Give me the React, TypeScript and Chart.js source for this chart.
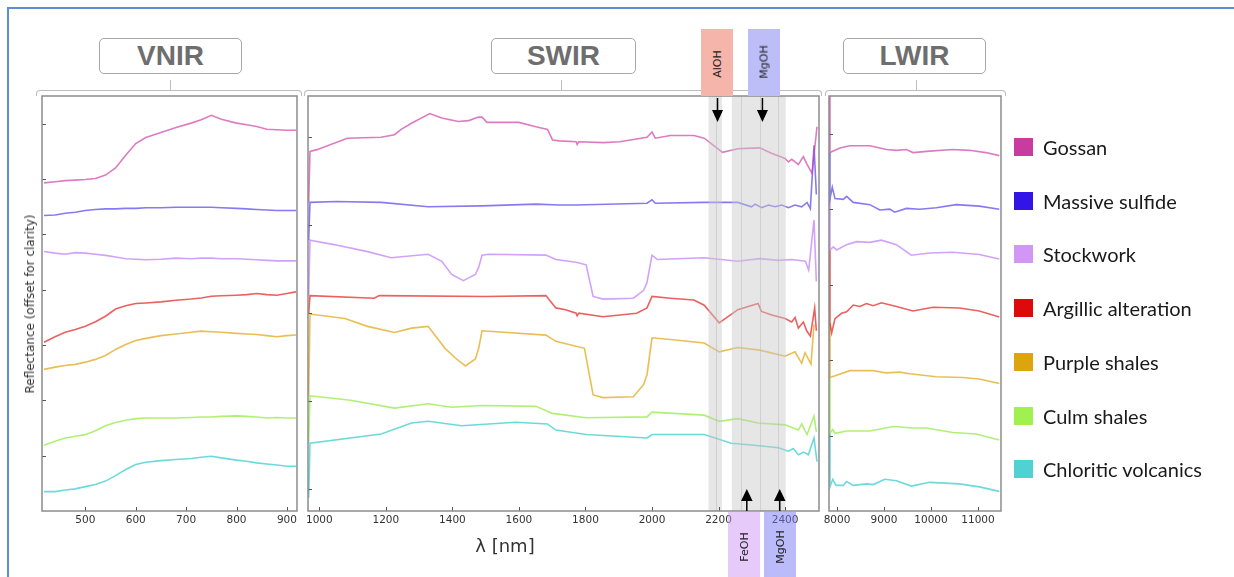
import React, { useEffect, useRef } from "react";
import { Chart, registerables } from "chart.js";

Chart.register(...registerables);

// ---------- series meta ----------
const seriesNames = [
  "Gossan",
  "Massive sulfide",
  "Stockwork",
  "Argillic alteration",
  "Purple shales",
  "Culm shales",
  "Chloritic volcanics",
];
const legendColors = ["#c83ca0", "#3214e6", "#d296f5", "#dc0a0a", "#dca50f", "#a0f050", "#50d2d2"];
const lineColors = [
  "rgba(205,60,165,0.68)",
  "rgba(60,40,235,0.62)",
  "rgba(195,130,245,0.75)",
  "rgba(225,20,20,0.68)",
  "rgba(225,165,20,0.72)",
  "rgba(150,235,70,0.75)",
  "rgba(60,205,205,0.75)",
];

// ---------- VNIR (nm) ----------
const vnirNm = [418, 440, 460, 480, 500, 520, 540, 560, 580, 600, 620, 650, 680, 710, 730, 750, 770, 800, 820, 840, 860, 880, 900, 918];
const vnirGossan = [5.93, 5.95, 5.97, 5.98, 5.99, 6.01, 6.07, 6.2, 6.43, 6.64, 6.75, 6.84, 6.93, 7.01, 7.07, 7.15, 7.08, 7.01, 6.98, 6.95, 6.9, 6.89, 6.88, 6.88];
const vnirMassive = [5.34, 5.35, 5.38, 5.4, 5.43, 5.45, 5.46, 5.46, 5.47, 5.47, 5.48, 5.48, 5.49, 5.49, 5.49, 5.49, 5.48, 5.47, 5.46, 5.45, 5.44, 5.43, 5.43, 5.43];
const vnirStockwork = [4.69, 4.66, 4.64, 4.67, 4.66, 4.64, 4.62, 4.59, 4.56, 4.55, 4.54, 4.55, 4.57, 4.56, 4.57, 4.57, 4.56, 4.56, 4.55, 4.54, 4.53, 4.52, 4.52, 4.52];
const vnirArgillic = [3.05, 3.15, 3.23, 3.28, 3.34, 3.42, 3.52, 3.65, 3.71, 3.75, 3.76, 3.78, 3.81, 3.83, 3.85, 3.88, 3.89, 3.9, 3.91, 3.93, 3.91, 3.9, 3.93, 3.96];
const vnirPurple = [2.56, 2.6, 2.63, 2.65, 2.69, 2.74, 2.81, 2.92, 3.01, 3.08, 3.12, 3.17, 3.2, 3.23, 3.25, 3.24, 3.23, 3.21, 3.2, 3.19, 3.17, 3.15, 3.17, 3.18];
const vnirCulm = [1.19, 1.26, 1.32, 1.35, 1.38, 1.45, 1.54, 1.6, 1.64, 1.67, 1.68, 1.68, 1.68, 1.69, 1.7, 1.7, 1.71, 1.72, 1.71, 1.7, 1.68, 1.69, 1.68, 1.68];
const vnirChloritic = [0.35, 0.35, 0.38, 0.4, 0.44, 0.48, 0.54, 0.64, 0.75, 0.84, 0.88, 0.91, 0.93, 0.95, 0.97, 0.99, 0.96, 0.92, 0.9, 0.87, 0.85, 0.83, 0.81, 0.81];

// ---------- SWIR [nm, value] ----------
const swirGossan: [number, number][] = [
  [968, 3.26], [972, 3.84], [993, 3.86], [1084, 3.99], [1186, 4.0], [1226, 4.03], [1246, 4.09], [1277, 4.16], [1332, 4.27],
  [1368, 4.22], [1418, 4.18], [1449, 4.19], [1479, 4.23], [1489, 4.23], [1504, 4.17], [1600, 4.17], [1651, 4.12], [1686, 4.09],
  [1701, 3.97], [1721, 3.96], [1772, 3.95], [1775, 3.92], [1780, 3.95], [1853, 3.94], [1903, 3.95], [1985, 4.0], [2000, 4.06],
  [2010, 3.99], [2055, 4.02], [2126, 4.02], [2157, 3.99], [2212, 3.83], [2258, 3.87], [2324, 3.88], [2359, 3.82], [2400, 3.76],
  [2410, 3.72], [2420, 3.75], [2430, 3.72], [2440, 3.69], [2448, 3.74], [2455, 3.78], [2465, 3.7], [2481, 3.59], [2496, 4.12],
];
const swirMassive: [number, number][] = [
  [968, 2.83], [972, 3.26], [1050, 3.27], [1186, 3.26], [1327, 3.21], [1489, 3.22], [1651, 3.24], [1721, 3.23], [1772, 3.23],
  [1985, 3.25], [2000, 3.29], [2010, 3.25], [2157, 3.26], [2258, 3.26], [2299, 3.21], [2310, 3.24], [2330, 3.2], [2350, 3.23],
  [2370, 3.21], [2390, 3.23], [2410, 3.2], [2430, 3.23], [2450, 3.21], [2466, 3.26], [2476, 3.19], [2487, 3.91], [2494, 3.35],
];
const swirStockwork: [number, number][] = [
  [968, 2.2], [972, 2.83], [1044, 2.78], [1145, 2.7], [1216, 2.63], [1327, 2.67], [1368, 2.59], [1398, 2.44], [1433, 2.37],
  [1469, 2.44], [1479, 2.52], [1489, 2.66], [1509, 2.67], [1681, 2.66], [1711, 2.61], [1772, 2.58], [1802, 2.55], [1823, 2.19],
  [1853, 2.16], [1944, 2.17], [1975, 2.26], [1985, 2.35], [2000, 2.66], [2016, 2.61], [2157, 2.63], [2258, 2.59], [2324, 2.62],
  [2380, 2.6], [2420, 2.61], [2461, 2.59], [2471, 2.49], [2487, 3.06], [2494, 2.36],
];
const swirArgillic: [number, number][] = [
  [968, 1.99], [972, 2.2], [1165, 2.17], [1180, 2.2], [1500, 2.19], [1681, 2.2], [1711, 2.06], [1740, 2.04], [1772, 2.0],
  [1775, 1.97], [1780, 2.0], [1853, 1.96], [1954, 2.0], [1985, 2.06], [2000, 2.19], [2055, 2.17], [2126, 2.15], [2157, 2.09],
  [2202, 1.89], [2258, 2.04], [2319, 2.11], [2329, 2.02], [2360, 1.98], [2400, 1.94], [2420, 1.9], [2430, 1.95], [2440, 1.83],
  [2455, 1.9], [2465, 1.8], [2476, 1.74], [2489, 2.06], [2494, 1.8],
];
const swirPurple: [number, number][] = [
  [968, 1.06], [972, 1.99], [1077, 1.94], [1145, 1.85], [1226, 1.78], [1277, 1.83], [1327, 1.85], [1378, 1.6], [1409, 1.49],
  [1439, 1.4], [1469, 1.48], [1479, 1.6], [1489, 1.8], [1681, 1.75], [1711, 1.68], [1797, 1.6], [1823, 1.07], [1853, 1.04],
  [1944, 1.05], [1975, 1.19], [1985, 1.3], [2000, 1.72], [2055, 1.7], [2157, 1.66], [2202, 1.56], [2258, 1.61], [2324, 1.58],
  [2400, 1.51], [2430, 1.56], [2450, 1.43], [2460, 1.55], [2478, 1.42], [2487, 1.87],
];
const swirCulm: [number, number][] = [
  [968, 0.52], [972, 1.06], [1094, 1.01], [1226, 0.92], [1327, 0.97], [1398, 0.93], [1489, 0.95], [1651, 0.94], [1701, 0.86],
  [1802, 0.81], [1985, 0.82], [2000, 0.875], [2157, 0.84], [2202, 0.77], [2258, 0.8], [2319, 0.75], [2400, 0.73], [2440, 0.67],
  [2450, 0.74], [2466, 0.62], [2487, 0.83], [2494, 0.65],
];
const swirChloritic: [number, number][] = [
  [968, -0.1], [972, 0.52], [1186, 0.625], [1277, 0.75], [1327, 0.77], [1428, 0.72], [1590, 0.76], [1686, 0.74], [1711, 0.67],
  [1802, 0.62], [1985, 0.58], [2000, 0.62], [2157, 0.62], [2238, 0.52], [2300, 0.5], [2380, 0.47], [2410, 0.43], [2425, 0.46],
  [2440, 0.39], [2455, 0.42], [2470, 0.39], [2487, 0.58], [2496, 0.31],
];

// ---------- LWIR [nm, value] ----------
const lwirGossan: [number, number][] = [
  [7835, 5.6], [7851, 4.75], [8063, 4.81], [8275, 4.84], [8699, 4.84], [9052, 4.79], [9264, 4.78], [9476, 4.79], [9617, 4.75],
  [9970, 4.77], [10464, 4.79], [10817, 4.78], [11171, 4.75], [11453, 4.71],
];
const lwirMassive: [number, number][] = [
  [7835, 4.75], [7851, 4.14], [7900, 4.29], [7957, 4.14], [8134, 4.13], [8205, 4.17], [8346, 4.09], [8699, 4.06], [8911, 3.99],
  [9123, 4.0], [9228, 3.96], [9476, 4.01], [9759, 4.0], [10112, 4.02], [10535, 4.06], [11029, 4.04], [11453, 4.0],
];
const lwirStockwork: [number, number][] = [
  [7835, 4.14], [7851, 3.46], [7924, 3.5], [7992, 3.46], [8205, 3.53], [8417, 3.57], [8699, 3.56], [8946, 3.59], [9264, 3.53],
  [9582, 3.39], [9970, 3.42], [10464, 3.43], [11029, 3.4], [11453, 3.34],
];
const lwirArgillic: [number, number][] = [
  [7835, 3.46], [7851, 2.49], [7887, 2.36], [7957, 2.55], [8098, 2.62], [8205, 2.64], [8346, 2.73], [8487, 2.71], [8628, 2.75],
  [8770, 2.72], [8946, 2.76], [9264, 2.71], [9617, 2.65], [10041, 2.7], [10605, 2.69], [11029, 2.65], [11453, 2.57],
];
const lwirPurple: [number, number][] = [
  [7835, 2.49], [7851, 1.77], [7992, 1.8], [8275, 1.86], [8770, 1.86], [9052, 1.83], [9335, 1.84], [9546, 1.82], [10112, 1.78],
  [10676, 1.77], [11029, 1.75], [11453, 1.69],
];
const lwirCulm: [number, number][] = [
  [7835, 1.77], [7851, 1.03], [7910, 1.08], [7957, 1.03], [8205, 1.06], [8699, 1.06], [9193, 1.12], [9617, 1.1], [9900, 1.1],
  [10464, 1.04], [10958, 1.02], [11453, 0.94],
];
const lwirChloritic: [number, number][] = [
  [7835, 1.03], [7851, 0.32], [7910, 0.42], [7980, 0.34], [8134, 0.34], [8205, 0.39], [8346, 0.34], [8628, 0.36], [8770, 0.35],
  [9017, 0.42], [9264, 0.4], [9582, 0.33], [9970, 0.38], [10605, 0.36], [11029, 0.32], [11453, 0.26],
];

// ---------- ticks / annotations ----------
const vnirXTicks = [500, 600, 700, 800, 900];
const swirXTicks = [1000, 1200, 1400, 1600, 1800, 2000, 2200, 2400];
const lwirXTicks = [8000, 9000, 10000, 11000];
const vnirYTicks = [1, 2, 3, 4, 5, 6, 7];
const swirYTicks = [0, 1, 2, 3, 4];
const lwirYTicks = [1, 2, 3, 4, 5];

const absorptionBands: [number, number][] = [[2170, 2210], [2240, 2402]];
const bandEdges = [2193, 2267, 2325, 2378];
const downArrowsNm = [2197, 2332]; // AlOH, MgOH
const upArrowsNm = [2285, 2384]; // FeOH, MgOH

type Pt = { x: number; y: number };

const vnirData: Pt[][] = [vnirGossan, vnirMassive, vnirStockwork, vnirArgillic, vnirPurple, vnirCulm, vnirChloritic].map((arr) =>
  vnirNm.map((x, i) => ({ x, y: arr[i] }))
);
const toPts = (a: [number, number][]) => a.map(([x, y]) => ({ x, y }));
const swirData: Pt[][] = [swirGossan, swirMassive, swirStockwork, swirArgillic, swirPurple, swirCulm, swirChloritic].map(toPts);
const lwirData: Pt[][] = [lwirGossan, lwirMassive, lwirStockwork, lwirArgillic, lwirPurple, lwirCulm, lwirChloritic].map(toPts);

const PAD_L = 24;
const PAD_R = 24;
const PAD_T = 4;
const AXIS_H = 24;

type PanelProps = {
  left: number;
  top: number;
  width: number;
  height: number;
  xMin: number;
  xMax: number;
  xTicks: number[];
  yMin: number;
  yMax: number;
  yTicks: number[];
  data: Pt[][];
  bands?: [number, number][];
  edges?: number[];
  down?: number[];
  up?: number[];
};

function Panel(p: PanelProps) {
  const ref = useRef<HTMLCanvasElement>(null);
  useEffect(() => {
    if (!ref.current) return;
    const decor = {
      id: "decor",
      afterDatasetsDraw(chart: any) {
        const { ctx, chartArea: a, scales } = chart;
        const xs = scales.x;
        ctx.save();
        ctx.beginPath();
        ctx.rect(a.left, a.top, a.right - a.left, a.bottom - a.top);
        ctx.clip();
        (p.bands || []).forEach(([s, e]) => {
          const x0 = xs.getPixelForValue(s);
          const x1 = xs.getPixelForValue(e);
          ctx.fillStyle = "rgba(200,200,200,0.45)";
          ctx.fillRect(x0, a.top, x1 - x0, a.bottom - a.top);
        });
        (p.edges || []).forEach((v) => {
          const xx = Math.round(xs.getPixelForValue(v)) + 0.5;
          ctx.strokeStyle = "rgba(185,185,185,0.5)";
          ctx.lineWidth = 1;
          ctx.beginPath();
          ctx.moveTo(xx, a.top);
          ctx.lineTo(xx, a.bottom);
          ctx.stroke();
        });
        ctx.restore();
      },
      afterDraw(chart: any) {
        const { ctx, chartArea: a, scales } = chart;
        const xs = scales.x;
        const ys = scales.y;
        ctx.save();
        ctx.strokeStyle = "#555";
        ctx.lineWidth = 1;
        p.xTicks.forEach((v) => {
          const xx = Math.round(xs.getPixelForValue(v)) + 0.5;
          ctx.beginPath();
          ctx.moveTo(xx, a.bottom);
          ctx.lineTo(xx, a.bottom - 4);
          ctx.stroke();
        });
        p.yTicks.forEach((v) => {
          const yy = Math.round(ys.getPixelForValue(v)) + 0.5;
          ctx.beginPath();
          ctx.moveTo(a.left, yy);
          ctx.lineTo(a.left + 4, yy);
          ctx.stroke();
        });
        ctx.strokeStyle = "#8c8c8c";
        ctx.lineWidth = 1.5;
        ctx.strokeRect(a.left, a.top, a.right - a.left, a.bottom - a.top);
        ctx.fillStyle = "#000";
        ctx.strokeStyle = "#000";
        ctx.lineWidth = 1.5;
        (p.down || []).forEach((v) => {
          const xx = xs.getPixelForValue(v);
          ctx.beginPath();
          ctx.moveTo(xx, a.top + 2);
          ctx.lineTo(xx, a.top + 15);
          ctx.stroke();
          ctx.beginPath();
          ctx.moveTo(xx - 5.5, a.top + 14);
          ctx.lineTo(xx + 5.5, a.top + 14);
          ctx.lineTo(xx, a.top + 26);
          ctx.closePath();
          ctx.fill();
        });
        (p.up || []).forEach((v) => {
          const xx = xs.getPixelForValue(v);
          ctx.beginPath();
          ctx.moveTo(xx, a.bottom);
          ctx.lineTo(xx, a.bottom - 11);
          ctx.stroke();
          ctx.beginPath();
          ctx.moveTo(xx - 5.8, a.bottom - 10);
          ctx.lineTo(xx + 5.8, a.bottom - 10);
          ctx.lineTo(xx, a.bottom - 22);
          ctx.closePath();
          ctx.fill();
        });
        ctx.restore();
      },
    };
    const chart = new Chart(ref.current, {
      type: "line",
      data: {
        datasets: p.data.map((d, i) => ({
          label: seriesNames[i],
          data: d,
          borderColor: lineColors[i],
          backgroundColor: lineColors[i],
          borderWidth: 1.6,
          pointRadius: 0,
          tension: 0,
          fill: false,
        })),
      },
      options: {
        responsive: false,
        animation: false,
        devicePixelRatio: 1,
        events: [],
        layout: { padding: { left: PAD_L, right: PAD_R, top: PAD_T, bottom: 0 } },
        plugins: { legend: { display: false }, tooltip: { enabled: false } },
        scales: {
          x: {
            type: "linear",
            min: p.xMin,
            max: p.xMax,
            grid: { display: false, drawTicks: false },
            border: { display: false },
            ticks: {
              font: { family: "DejaVu Sans", size: 10.5 },
              color: "#333",
              padding: 3,
              autoSkip: false,
              maxRotation: 0,
              callback: (v: any) => String(v),
            },
            afterBuildTicks: (s: any) => {
              s.ticks = p.xTicks.map((v) => ({ value: v }));
            },
            afterFit: (s: any) => {
              s.height = AXIS_H;
            },
          },
          y: { type: "linear", display: false, min: p.yMin, max: p.yMax },
        },
      } as any,
      plugins: [decor],
    });
    return () => chart.destroy();
  }, []);
  return (
    <canvas
      ref={ref}
      width={p.width + PAD_L + PAD_R}
      height={p.height + PAD_T + AXIS_H}
      style={{
        position: "absolute",
        left: p.left - PAD_L,
        top: p.top - PAD_T,
        width: p.width + PAD_L + PAD_R,
        height: p.height + PAD_T + AXIS_H,
      }}
    />
  );
}

function TitleBox({ left, width, text }: { left: number; width: number; text: string }) {
  return (
    <div
      style={{
        position: "absolute",
        left,
        top: 38,
        width,
        height: 36,
        boxSizing: "border-box",
        border: "1.5px solid #a8a8a8",
        borderRadius: 5,
        background: "#fff",
        display: "flex",
        alignItems: "center",
        justifyContent: "center",
        fontFamily: "Liberation Sans, Arial, sans-serif",
        fontWeight: "bold",
        fontSize: 28,
        color: "#6e6e6e",
      }}
    >
      {text}
    </div>
  );
}

function Bracket({ left, right, tick }: { left: number; right: number; tick: number }) {
  return (
    <>
      <div
        style={{
          position: "absolute",
          left,
          top: 90,
          width: right - left,
          height: 6,
          boxSizing: "border-box",
          borderTop: "1.5px solid #bdbdbd",
          borderLeft: "1.5px solid #bdbdbd",
          borderRight: "1.5px solid #bdbdbd",
          borderRadius: "4px 4px 0 0",
        }}
      />
      <div style={{ position: "absolute", left: tick, top: 80, width: 0, height: 10, borderLeft: "1.5px solid #bdbdbd" }} />
    </>
  );
}

function LabelBox({ left, top, height, color, text, textY }: { left: number; top: number; height: number; color: string; text: string; textY: number }) {
  return (
    <>
      <div style={{ position: "absolute", left, top, width: 32, height, background: color }} />
      <div
        style={{
          position: "absolute",
          left: left + 16,
          top: textY,
          transform: "translate(-50%, -50%) rotate(-90deg)",
          fontFamily: "DejaVu Sans, sans-serif",
          fontSize: 11,
          color: "#222",
          whiteSpace: "nowrap",
        }}
      >
        {text}
      </div>
    </>
  );
}

export default function App() {
  return (
    <div style={{ position: "absolute", left: 0, top: 0, width: 1234, height: 577, overflow: "hidden", background: "#fff" }}>
      <div
        style={{
          position: "absolute",
          left: 7,
          top: 7,
          width: 1300,
          height: 700,
          borderTop: "2px solid #5b8fd4",
          borderLeft: "2px solid #5b8fd4",
        }}
      />
      <Bracket left={36} right={302} tick={170} />
      <Bracket left={304} right={822} tick={561} />
      <Bracket left={825} right={1006} tick={916} />
      <TitleBox left={99} width={143} text="VNIR" />
      <TitleBox left={491} width={145} text="SWIR" />
      <TitleBox left={843} width={143} text="LWIR" />

      <Panel left={42} top={96} width={255} height={415} xMin={414} xMax={920} xTicks={vnirXTicks} yMin={0} yMax={7.5} yTicks={vnirYTicks} data={vnirData} />
      <Panel
        left={308}
        top={96}
        width={511}
        height={415}
        xMin={966}
        xMax={2502}
        xTicks={swirXTicks}
        yMin={-0.25}
        yMax={4.47}
        yTicks={swirYTicks}
        data={swirData}
        bands={absorptionBands}
        edges={bandEdges}
        down={downArrowsNm}
        up={upArrowsNm}
      />
      <Panel left={829} top={96} width={172} height={415} xMin={7830} xMax={11490} xTicks={lwirXTicks} yMin={0} yMax={5.5} yTicks={lwirYTicks} data={lwirData} />

      <LabelBox left={701} top={29} height={67} color="#f5b5aa" text="AlOH" textY={64} />
      <LabelBox left={748} top={29} height={67} color="#bdbdf8" text="MgOH" textY={62} />
      <LabelBox left={728} top={512} height={70} color="rgba(205,150,245,0.5)" text="FeOH" textY={547} />
      <LabelBox left={764} top={512} height={70} color="rgba(120,120,245,0.5)" text="MgOH" textY={547} />

      <div
        style={{
          position: "absolute",
          left: 30,
          top: 304,
          transform: "translate(-50%, -50%) rotate(-90deg)",
          fontFamily: "DejaVu Sans, sans-serif",
          fontSize: 12,
          color: "#333",
          whiteSpace: "nowrap",
        }}
      >
        Reflectance (offset for clarity)
      </div>
      <div
        style={{
          position: "absolute",
          left: 505,
          top: 545,
          transform: "translate(-50%, -50%)",
          fontFamily: "DejaVu Sans, sans-serif",
          fontSize: 18,
          color: "#333",
          whiteSpace: "nowrap",
        }}
      >
        λ [nm]
      </div>

      {seriesNames.map((name, i) => (
        <div key={name} style={{ position: "absolute", left: 1014, top: 138 + i * 53.7, height: 18, display: "flex", alignItems: "center" }}>
          <div style={{ width: 19, height: 18, background: legendColors[i] }} />
          <div style={{ marginLeft: 10, fontFamily: "Lato, sans-serif", fontSize: 20, color: "#1a1a1a", whiteSpace: "nowrap" }}>{name}</div>
        </div>
      ))}
    </div>
  );
}
